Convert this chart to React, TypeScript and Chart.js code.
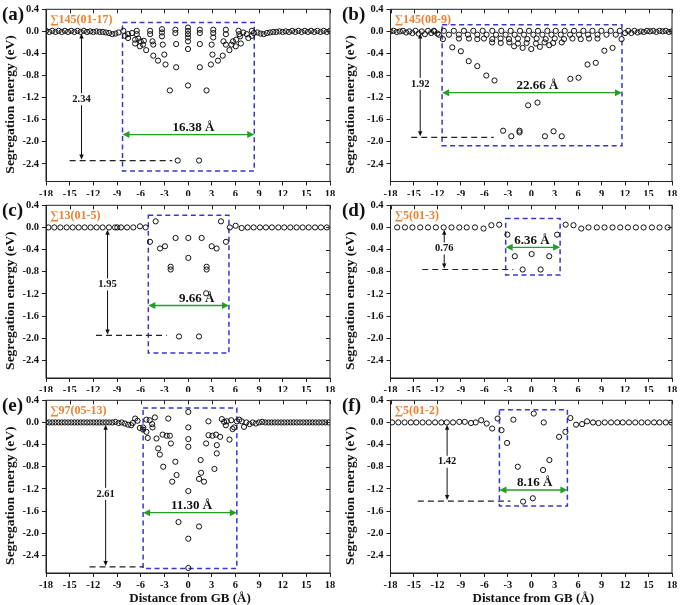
import React, { useEffect, useRef } from "react";
import { Chart, registerables } from "chart.js";
Chart.register(...registerables);

// ---------- axes ----------
const xTicks = [-18, -15, -12, -9, -6, -3, 0, 3, 6, 9, 12, 15, 18];
const yTicks = [0.4, 0.0, -0.4, -0.8, -1.2, -1.6, -2.0, -2.4];
const xMin = -18, xMax = 18, yMin = -2.72, yMax = 0.4;
const xTitle = "Distance from GB (\u00C5)";
const yTitle = "Segregation energy (eV)";

// ---------- panel texts / annotation values ----------
const panelLetters = ["(a)", "(b)", "(c)", "(d)", "(e)", "(f)"];
const gbNames = ["\u2211145(01-17)", "\u2211145(08-9)", "\u221113(01-5)", "\u22115(01-3)", "\u221197(05-13)", "\u22115(01-2)"];
const gbWidths = [16.38, 22.66, 9.66, 6.36, 11.30, 8.16];
const maxDepths = [2.34, 1.92, 1.95, 0.76, 2.61, 1.42];
const boxLeft = [-8.3, -11.4, -5.03, -3.27, -5.69, -4.07];
const boxRight = [8.4, 11.6, 5.19, 3.69, 6.19, 4.62];
const boxTop = [0.16, 0.12, 0.22, 0.16, 0.26, 0.23];
const boxBottom = [-2.53, -2.07, -2.27, -0.86, -2.64, -1.51];
const widthArrowY = [-1.87, -1.11, -1.41, -0.36, -1.63, -1.22];
const widthLabelX = [0.7, 0.8, 1.1, 0.1, 0.46, 0.45];
const depthLineStart = [-15.0, -15.35, -11.66, -13.94, -12.48, -14.5];
const depthLineEnd = [-2.0, -4.8, -2.7, -2.3, -5.7, -2.66];
const depthArrowX = [-13.5, -14.2, -10.2, -11.13, -10.44, -10.76];
const depthLabelY = [-1.23, -0.95, -1.03, -0.38, -1.29, -0.71];

// ---------- data (x: distance from GB in Å, y: segregation energy in eV) ----------
const pointsA: [number, number][] = [
  [-18, 0.01], [-17.6, -0.01], [-17.2, 0.01], [-16.8, -0.01], [-16.4, 0.01], [-16, -0.01], [-15.6, 0.01], [-15.2, -0.01],
  [-14.8, 0.01], [-14.4, -0.01], [-14, 0.01], [-13.6, -0.01], [-13.2, 0.01], [-12.8, -0.01], [-12.4, 0], [-12, -0.01],
  [-11.6, 0], [-11.2, -0.01], [-10.8, -0.01], [-10.4, -0.02], [-10, -0.03], [-9.6, -0.05], [-9.2, -0.04], [-8.8, -0.02],
  [-8.2, 0.01], [-8.0, -0.08], [-7.6, -0.12], [-7.6, -0.05], [-7.1, -0.03], [-6.7, -0.15], [-6.5, 0.01], [-6.5, -0.05],
  [-6.3, -0.13], [-6.7, -0.22], [-6.0, -0.18], [-6.1, -0.27], [-5.7, -0.24], [-5.6, -0.17], [-5.3, -0.34], [-4.8, 0.01],
  [-4.8, -0.05], [-4.5, -0.18], [-4.4, -0.24], [-4.4, -0.44], [-3.8, -0.53], [-3.3, 0.04], [-3.3, -0.02], [-3.3, -0.09],
  [-3.2, -0.24], [-3.0, -0.42], [-2.85, -0.6], [-2.3, -1.07], [-1.6, 0.03], [-1.6, -0.03], [-1.5, -0.23], [-1.5, -0.65],
  [-1.3, -2.34], [0, 0.07], [0, 0.01], [0, -0.05], [0, -0.11], [0, -0.18], [0, -0.32], [0, -0.98], [1.4, -2.34],
  [1.5, 0.03], [1.5, -0.03], [1.5, -0.23], [1.5, -0.65], [2.35, -1.07], [2.9, -0.6], [3.1, -0.42], [3.2, 0.03],
  [3.2, -0.03], [3.2, -0.11], [3.0, -0.24], [3.8, -0.53], [4.4, -0.44], [4.8, 0.03], [4.8, -0.05], [4.8, -0.24],
  [4.5, -0.18], [5.25, -0.34], [5.5, -0.24], [5.7, -0.18], [6.05, -0.27], [6.1, -0.15], [6.4, 0.01], [6.5, -0.05],
  [6.6, -0.09], [6.7, -0.22], [7.0, -0.02], [7.45, -0.05], [7.65, -0.12], [8.1, 0.01], [8.35, -0.03], [8.1, -0.08],
  [8.8, -0.02], [9.2, -0.04], [9.6, -0.05], [10, -0.03], [10.4, -0.02], [10.8, -0.01], [11.2, -0.01], [11.6, 0],
  [12, -0.01], [12.4, 0], [12.8, -0.01], [13.2, 0.01], [13.6, -0.01], [14, 0.01], [14.4, -0.01], [14.8, 0.01],
  [15.2, -0.01], [15.6, 0.01], [16, -0.01], [16.4, 0.01], [16.8, -0.01], [17.2, 0.01], [17.6, -0.01], [18, 0.01],
];

const pointsB: [number, number][] = [
  [-18, 0], [-17.6, 0.01], [-17.2, -0.01], [-16.8, 0], [-16.4, 0.01], [-16, -0.02], [-15.6, 0], [-15.2, -0.03],
  [-14.8, 0.01], [-14.4, -0.04], [-14, 0], [-13.6, -0.05], [-13.2, 0.01], [-12.8, -0.03], [-12.4, 0.0], [-12.0, -0.04],
  [-12.46, 0.01], [-11.18, 0.01], [-9.9, 0.01], [-8.61, 0.01], [-7.41, 0.01], [-6.22, 0.01], [-4.98, 0.01], [-3.83, 0.01],
  [-2.64, 0.01], [-1.44, 0.01], [-0.29, 0.01], [0.86, 0.01], [2.06, 0.01], [3.13, 0.01], [4.28, 0.01], [5.47, 0.01],
  [6.67, 0.01], [7.83, 0.01], [8.98, 0.01], [10.17, 0.01], [11.32, 0.01],
  [-11.8, -0.06], [-10.53, -0.06], [-9.25, -0.06], [-8.1, -0.06], [-6.9, -0.06], [-5.71, -0.06], [-4.51, -0.06], [-3.28, -0.06],
  [-2.12, -0.06], [-0.93, -0.06], [0.27, -0.06], [1.42, -0.06], [2.58, -0.06], [3.77, -0.06], [4.96, -0.06], [6.11, -0.06],
  [7.26, -0.06], [8.47, -0.06], [9.62, -0.06], [10.81, -0.06],
  [-9.25, -0.13], [-7.97, -0.13], [-6.9, -0.14], [-6.05, -0.13], [-4.98, -0.14], [-3.92, -0.13], [-2.85, -0.14], [-1.7, -0.13],
  [-0.5, -0.14], [0.69, -0.13], [1.85, -0.14], [3.0, -0.13], [4.19, -0.14], [5.27, -0.13], [6.33, -0.14], [7.39, -0.13], [8.47, -0.13],
  [-5.0, -0.2], [-3.9, -0.21], [-2.8, -0.2], [-1.7, -0.22], [-0.6, -0.21], [0.6, -0.22], [1.7, -0.2], [2.8, -0.21], [3.9, -0.2],
  [-2.2, -0.27], [-1.1, -0.3], [0, -0.32], [1.1, -0.28], [2.3, -0.25],
  [-11.3, -0.14], [-10.1, -0.29], [-9.0, -0.36], [-8.0, -0.54], [-6.9, -0.63], [-5.75, -0.8], [-4.7, -0.89], [-3.6, -1.8],
  [-2.55, -1.9], [-1.5, -1.8], [-1.5, -1.83], [-0.4, -1.34], [0.8, -1.29], [1.75, -1.9], [2.85, -1.81], [3.9, -1.9],
  [5.0, -0.86], [6.05, -0.84], [7.2, -0.6], [8.25, -0.57], [9.35, -0.35], [10.4, -0.3], [11.55, -0.14],
  [12.0, -0.03], [12.4, 0.01], [12.8, -0.03], [13.2, 0.01], [13.6, -0.02], [14.0, 0], [14.4, -0.01], [14.8, 0.01],
  [15.2, 0], [15.6, 0.01], [16.0, -0.01], [16.4, 0.01], [16.8, 0], [17.2, 0.01], [17.6, -0.01], [18, 0],
];

const pointsC: [number, number][] = [
  [-17.7, 0], [-16.94, 0], [-16.18, 0], [-15.38, 0], [-14.62, 0], [-13.86, 0], [-13.1, 0], [-12.34, 0],
  [-11.58, 0], [-10.82, 0], [-10.02, 0], [-9.25, 0], [-8.96, 0], [-8.49, 0], [-7.73, 0], [-6.93, 0],
  [-6.09, 0.02], [-5.37, 0],
  [-4.82, -0.26], [-4.1, 0.11], [-3.55, -0.38], [-2.92, -0.34], [-2.2, -0.71], [-2.2, -0.76], [-1.57, -0.19],
  [-1.14, -1.97], [0.04, -0.19], [0.04, -0.55], [1.39, -1.97], [1.73, -0.19], [2.36, -0.71], [2.36, -0.76],
  [2.3, -1.19], [3.0, -0.34], [3.63, -0.38], [4.18, 0.11], [4.81, -0.26],
  [5.3, 0], [6.04, 0.03], [6.8, -0.01], [7.56, 0], [8.32, 0], [9.12, 0], [9.88, 0], [10.64, 0], [11.45, 0],
  [12.2, 0], [12.97, 0], [13.77, 0], [14.53, 0], [15.3, 0], [16.1, 0], [16.85, 0], [17.6, 0],
];

const pointsD: [number, number][] = [
  [-17.15, 0], [-16.15, 0], [-15.2, 0], [-14.2, 0], [-13.2, 0], [-12.2, 0], [-11.2, 0], [-10.2, 0],
  [-9.2, 0], [-8.25, 0], [-7.2, 0], [-6.1, -0.02], [-5.1, 0.04], [-4.1, 0.05],
  [-3.05, -0.13], [-2.1, -0.52], [-1.1, -0.76], [0.05, -0.48], [1.2, -0.76], [2.3, -0.52], [3.3, -0.13],
  [4.4, 0.05], [5.4, 0.04], [6.4, -0.02], [7.32, 0], [8.39, 0], [9.37, 0], [10.39, 0], [11.38, 0],
  [12.36, 0], [13.38, 0], [14.37, 0], [15.43, 0], [16.41, 0], [17.44, 0],
];

const pointsE: [number, number][] = [
  [-18, 0], [-17.6, 0], [-17.2, 0], [-16.8, 0], [-16.4, 0], [-16, 0], [-15.6, 0], [-15.2, 0],
  [-14.8, 0], [-14.4, 0], [-14, 0], [-13.6, 0], [-13.2, 0], [-12.8, 0], [-12.4, 0], [-12, 0],
  [-11.6, 0], [-11.2, 0], [-10.8, 0], [-10.4, 0], [-10, 0], [-9.6, 0], [-9.2, 0.01], [-8.8, -0.01], [-8.4, 0],
  [-8.0, -0.02], [-7.6, -0.04], [-7.2, -0.05], [-7.0, -0.01], [-6.7, 0.07], [-6.4, 0.03], [-6.1, -0.1], [-5.7, -0.13],
  [-5.69, -0.09], [-5.27, 0.05], [-5.27, -0.17], [-5.1, -0.28], [-4.85, 0.04], [-4.54, -0.03], [-4.5, -0.09], [-4.2, 0.09],
  [-3.99, -0.29], [-3.78, -0.47], [-3.57, -0.58], [-3.22, -0.22], [-3.14, -0.8], [-2.7, -0.24], [-2.5, 0.07], [-2.3, -0.24],
  [-2.17, -0.38], [-2.0, -1.07], [-1.6, -0.71], [-1.45, -0.95], [-1.2, -1.8],
  [0.04, 0.19], [0.04, -0.09], [0.04, -0.3], [0.04, -0.44], [0.04, -1.24], [0.04, -2.1], [0.04, -2.63],
  [1.4, -1.88], [1.4, -1.02], [1.6, -0.68], [1.66, -0.91], [2.03, -1.07], [2.3, -0.38], [2.6, -0.23], [2.59, 0.02],
  [3.1, -0.24], [3.55, -0.22], [3.35, -0.84], [3.65, -0.41], [3.65, -0.56], [4.07, -0.26], [4.29, 0.06], [4.58, 0.01],
  [4.8, -0.05], [4.93, 0.02], [5.26, -0.31], [5.48, 0.04], [5.65, -0.12], [5.85, -0.09], [6.2, 0.02], [6.5, 0.05],
  [6.8, 0.02], [7.1, -0.08], [7.4, 0.0], [7.8, -0.03], [8.2, 0.0], [8.6, -0.02],
  [9.0, 0], [9.4, 0.01], [9.8, 0], [10.2, 0], [10.6, 0], [11.0, 0], [11.4, 0], [11.8, 0], [12.2, 0], [12.6, 0],
  [13.0, 0], [13.4, 0], [13.8, 0], [14.2, 0], [14.6, 0], [15.0, 0], [15.4, 0], [15.8, 0], [16.2, 0], [16.6, 0],
  [17.0, 0], [17.4, 0], [17.8, 0],
];

const pointsF: [number, number][] = [
  [-17.8, 0], [-17.0, 0], [-16.2, 0], [-15.4, 0], [-14.7, 0], [-13.9, 0], [-13.1, 0], [-12.3, 0], [-11.5, 0],
  [-10.8, 0], [-10.0, 0], [-9.2, 0.01], [-8.5, 0.01], [-7.7, -0.01], [-7.1, 0], [-6.4, 0.04], [-5.7, -0.02],
  [-5.0, -0.11], [-4.3, 0.07],
  [-3.8, -0.14], [-3.09, -0.37], [-1.72, -0.8], [-2.28, 0.05], [-1.04, -1.43], [0.2, -1.37], [0.32, 0.16],
  [1.6, 0.0], [1.51, -0.86], [2.32, -0.68], [3.56, -0.26], [4.37, -0.17], [5.0, 0.08],
  [5.73, -0.04], [6.5, -0.03], [7.14, 0.02], [7.9, 0], [8.6, -0.01], [9.4, 0], [10.2, 0], [11.0, 0], [11.7, 0],
  [12.5, 0], [13.3, 0], [14.1, 0], [14.9, 0], [15.7, 0], [16.4, 0], [17.2, 0], [17.9, 0],
];

const panelPoints = [pointsA, pointsB, pointsC, pointsD, pointsE, pointsF];

// ---------- layout ----------
const SERIF = '"Liberation Serif", "Times New Roman", serif';
const COLS = [
  { left: 0, w: 340, cl: 46, cr: 330 },
  { left: 340, w: 345, cl: 50.5, cr: 332 },
];
const ROWS = [
  { top: 0, h: 196, ct: 8.5, cb: 181.5 },
  { top: 196, h: 196, ct: 9, cb: 182 },
  { top: 391, h: 214, ct: 9, cb: 182 },
];

function arrowHead(ctx: CanvasRenderingContext2D, x: number, y: number, dx: number, dy: number, len: number, half: number) {
  // tip at (x,y), pointing direction (dx,dy) unit
  const bx = x - dx * len, by = y - dy * len;
  const px = -dy, py = dx;
  ctx.beginPath();
  ctx.moveTo(x, y);
  ctx.lineTo(bx + px * half, by + py * half);
  ctx.lineTo(bx - px * half, by - py * half);
  ctx.closePath();
  ctx.fill();
}

const annotPlugin = {
  id: "annot",
  beforeDatasetsDraw(chart: any, _a: any, opts: any) {
    const i = opts.idx;
    const { ctx, scales } = chart;
    const x = scales.x, y = scales.y;
    ctx.save();
    // blue dashed box
    ctx.setLineDash([5, 3.5]);
    ctx.lineWidth = 1.5;
    ctx.strokeStyle = "#3838C8";
    const bx1 = x.getPixelForValue(boxLeft[i]);
    const bx2 = x.getPixelForValue(boxRight[i]);
    const by1 = y.getPixelForValue(boxTop[i]);
    const by2 = y.getPixelForValue(boxBottom[i]);
    ctx.strokeRect(bx1, by1, bx2 - bx1, by2 - by1);
    // black dashed depth line
    ctx.setLineDash([6, 4]);
    ctx.lineWidth = 1.2;
    ctx.strokeStyle = "#222";
    const dy = y.getPixelForValue(-maxDepths[i]);
    ctx.beginPath();
    ctx.moveTo(x.getPixelForValue(depthLineStart[i]), dy);
    ctx.lineTo(x.getPixelForValue(depthLineEnd[i]), dy);
    ctx.stroke();
    // vertical double arrow
    ctx.setLineDash([]);
    ctx.lineWidth = 1;
    ctx.fillStyle = "#111";
    ctx.strokeStyle = "#111";
    const ax = x.getPixelForValue(depthArrowX[i]);
    const ay1 = y.getPixelForValue(-0.04);
    const ay2 = dy - 1;
    ctx.beginPath();
    ctx.moveTo(ax, ay1 + 3);
    ctx.lineTo(ax, ay2 - 3);
    ctx.stroke();
    arrowHead(ctx, ax, ay1, 0, -1, 5, 2.2);
    arrowHead(ctx, ax, ay2, 0, 1, 5, 2.2);
    // green double arrow
    ctx.strokeStyle = "#23A023";
    ctx.fillStyle = "#23A023";
    ctx.lineWidth = 1.4;
    const gy = y.getPixelForValue(widthArrowY[i]);
    ctx.beginPath();
    ctx.moveTo(bx1 + 4, gy);
    ctx.lineTo(bx2 - 4, gy);
    ctx.stroke();
    arrowHead(ctx, bx1, gy, -1, 0, 7, 3.5);
    arrowHead(ctx, bx2, gy, 1, 0, 7, 3.5);
    ctx.restore();
  },
  afterDatasetsDraw(chart: any, _a: any, opts: any) {
    const i = opts.idx;
    const { ctx, scales, chartArea: ca } = chart;
    const x = scales.x, y = scales.y;
    ctx.save();
    // depth label with white background
    ctx.font = `bold 10.5px ${SERIF}`;
    ctx.textAlign = "center";
    ctx.textBaseline = "middle";
    const dl = maxDepths[i].toFixed(2);
    const dx = x.getPixelForValue(depthArrowX[i]);
    const dly = y.getPixelForValue(depthLabelY[i]);
    const tw = ctx.measureText(dl).width;
    ctx.fillStyle = "#fff";
    ctx.fillRect(dx - tw / 2 - 1, dly - 6, tw + 2, 12);
    ctx.fillStyle = "#111";
    ctx.fillText(dl, dx, dly);
    // width label
    ctx.font = `bold 13px ${SERIF}`;
    ctx.fillText(gbWidths[i].toFixed(2) + " \u00C5", x.getPixelForValue(widthLabelX[i]), y.getPixelForValue(widthArrowY[i]) - 7);
    // GB name
    ctx.font = `bold 12px ${SERIF}`;
    ctx.textAlign = "left";
    ctx.fillStyle = "#EC8232";
    ctx.fillText(gbNames[i], ca.left + 4, ca.top + 11);
    ctx.restore();
  },
  afterDraw(chart: any, _a: any, opts: any) {
    const i = opts.idx;
    const { ctx, scales, chartArea: ca } = chart;
    const x = scales.x, y = scales.y;
    ctx.save();
    ctx.strokeStyle = "#222";
    ctx.lineWidth = 1;
    ctx.strokeRect(ca.left, ca.top, ca.right - ca.left, ca.bottom - ca.top);
    ctx.beginPath();
    xTicks.forEach((v) => {
      const px = Math.round(x.getPixelForValue(v)) + 0.5;
      ctx.moveTo(px, ca.top);
      ctx.lineTo(px, ca.top + 4);
    });
    yTicks.forEach((v) => {
      const py = Math.round(y.getPixelForValue(v)) + 0.5;
      ctx.moveTo(ca.right, py);
      ctx.lineTo(ca.right - 4, py);
    });
    ctx.stroke();
    // panel letter
    ctx.fillStyle = "#111";
    ctx.font = `bold 19px ${SERIF}`;
    ctx.textAlign = "left";
    ctx.textBaseline = "middle";
    ctx.fillText(panelLetters[i], 2, ca.top + 6);
    // y title
    ctx.font = `bold 13.5px ${SERIF}`;
    ctx.textAlign = "center";
    ctx.save();
    ctx.translate(10.5, (ca.top + ca.bottom) / 2 + 9);
    ctx.rotate(-Math.PI / 2);
    ctx.fillText(yTitle, 0, 0);
    ctx.restore();
    // x title for bottom row
    if (opts.showXTitle) {
      ctx.font = `bold 13px ${SERIF}`;
      ctx.fillText(xTitle, (ca.left + ca.right) / 2 + 2, ca.bottom + 26);
    }
    ctx.restore();
  },
};

function Panel({ idx }: { idx: number }) {
  const ref = useRef<HTMLCanvasElement | null>(null);
  const col = COLS[idx % 2];
  const row = ROWS[Math.floor(idx / 2)];
  useEffect(() => {
    if (!ref.current) return;
    const tickFont = { family: SERIF, size: 10.5, weight: "bold" as const };
    const chart = new Chart(ref.current, {
      type: "scatter",
      data: {
        datasets: [
          {
            data: panelPoints[idx].map(([px, py]) => ({ x: px, y: py })),
            pointRadius: 2.6,
            pointHoverRadius: 2.6,
            pointBorderWidth: 1,
            pointBorderColor: "#111",
            pointBackgroundColor: "rgba(0,0,0,0)",
            showLine: false,
          },
        ],
      },
      options: {
        responsive: false,
        animation: false,
        devicePixelRatio: 1,
        events: [],
        layout: { padding: { top: row.ct, right: col.w - col.cr, bottom: 0, left: 0 } },
        plugins: {
          legend: { display: false },
          tooltip: { enabled: false },
          annot: { idx, showXTitle: idx >= 4 },
        } as any,
        scales: {
          x: {
            type: "linear",
            min: xMin,
            max: xMax,
            afterBuildTicks: (s: any) => {
              s.ticks = xTicks.map((v) => ({ value: v }));
            },
            afterFit: (s: any) => {
              s.height = row.h - row.cb;
            },
            ticks: { font: tickFont, color: "#111", padding: 2, maxRotation: 0, autoSkip: false, callback: (v: any) => String(v) },
            grid: { display: true, drawOnChartArea: false, drawTicks: true, tickLength: 4, color: "#222" },
            border: { display: true, color: "#222", width: 1 },
          },
          y: {
            type: "linear",
            min: yMin,
            max: yMax,
            afterBuildTicks: (s: any) => {
              s.ticks = yTicks.map((v) => ({ value: v }));
            },
            afterFit: (s: any) => {
              s.width = col.cl;
            },
            ticks: { font: tickFont, color: "#111", padding: 3, autoSkip: false, callback: (v: any) => Number(v).toFixed(1) },
            grid: { display: true, drawOnChartArea: false, drawTicks: true, tickLength: 4, color: "#222" },
            border: { display: true, color: "#222", width: 1 },
          },
        },
      },
      plugins: [annotPlugin as any],
    });
    return () => chart.destroy();
  }, [idx]);
  return (
    <canvas
      ref={ref}
      width={col.w}
      height={row.h}
      style={{ position: "absolute", left: col.left, top: row.top, width: col.w, height: row.h }}
    />
  );
}

export default function App() {
  return (
    <div style={{ position: "absolute", left: 0, top: 0, width: 685, height: 605, background: "#fff", overflow: "hidden" }}>
      {[0, 1, 2, 3, 4, 5].map((i) => (
        <Panel key={i} idx={i} />
      ))}
    </div>
  );
}
